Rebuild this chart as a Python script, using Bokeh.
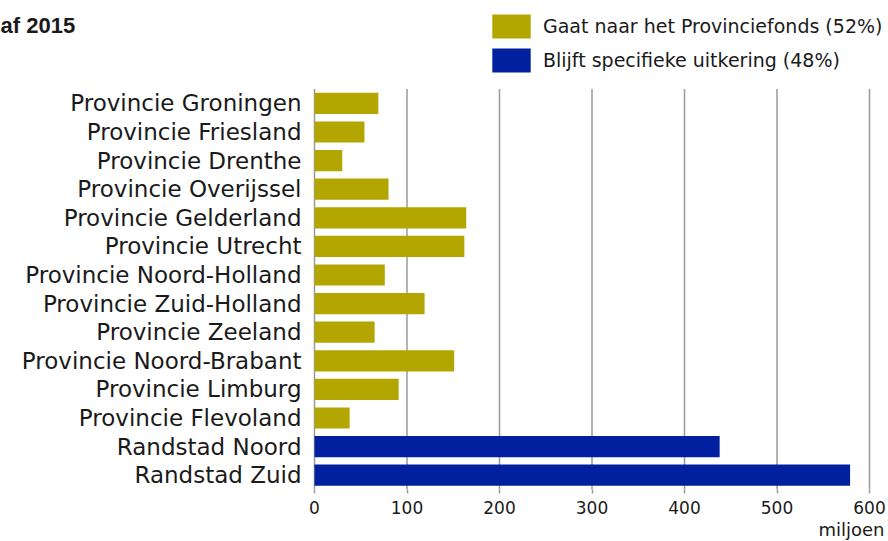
from bokeh.plotting import figure
from bokeh.models import (Range1d, Legend, LegendItem, Title, Label,
                          ColumnDataSource, FixedTicker)
from bokeh.embed import file_html
from bokeh.resources import INLINE

provinces = ["Provincie Groningen", "Provincie Friesland", "Provincie Drenthe",
             "Provincie Overijssel", "Provincie Gelderland", "Provincie Utrecht",
             "Provincie Noord-Holland", "Provincie Zuid-Holland", "Provincie Zeeland",
             "Provincie Noord-Brabant", "Provincie Limburg", "Provincie Flevoland"]
province_values = [69, 54, 30, 80, 164, 162, 76, 119, 65, 151, 91, 38]

randstad = ["Randstad Noord", "Randstad Zuid"]
randstad_values = [438, 579]

legend_labels = ["Gaat naar het Provinciefonds (52%)", "Blijft specifieke uitkering (48%)"]
title_text = "af 2015"
unit_text = "miljoen"
x_ticks = [0, 100, 200, 300, 400, 500, 600]

OLIVE = "#B3A600"
BLUE = "#0020A0"
GRID = "#9a9a9a"
TEXT = "#1a1a1a"
FONT = "DejaVu Sans"

# row positions: first category on top
categories = provinces + randstad
n = len(categories)
row = {c: n - 1 - i for i, c in enumerate(categories)}

W, H = 888, 541
BOTTOM = 52                     # room for x axis + unit
FRAME_H = H - BOTTOM
ROW_PX = 28.6
ZERO_PX = 314                   # pixel position of value 0
PX_PER_UNIT = 0.925

y_top = -0.5 + FRAME_H / ROW_PX
x_start = -ZERO_PX / PX_PER_UNIT
x_end = x_start + W / PX_PER_UNIT

p = figure(width=W, height=H, output_backend="svg", toolbar_location=None,
           x_range=Range1d(x_start, x_end), y_range=Range1d(-0.5, y_top),
           y_axis_location=None,
           min_border_left=0, min_border_right=0, min_border_top=0,
           min_border_bottom=BOTTOM)
p.outline_line_color = None
p.grid.grid_line_color = None

# vertical grid lines (limited to the bar area)
p.segment(x0=x_ticks, x1=x_ticks, y0=-0.5, y1=n - 0.5,
          line_color=GRID, line_width=1.5)

src_p = ColumnDataSource(dict(y=[row[c] for c in provinces], v=province_values))
src_r = ColumnDataSource(dict(y=[row[c] for c in randstad], v=randstad_values))
r1 = p.hbar(y="y", right="v", left=0, height=0.74, source=src_p,
            fill_color=OLIVE, line_color=None)
r2 = p.hbar(y="y", right="v", left=0, height=0.74, source=src_r,
            fill_color=BLUE, line_color=None)

# category labels
src_l = ColumnDataSource(dict(y=[row[c] for c in categories], name=categories))
p.text(x=0, y="y", text="name", source=src_l, x_offset=-13,
       text_align="right", text_baseline="middle",
       text_font={"value": FONT}, text_font_size="23px", text_color=TEXT)

# x axis
p.xaxis.ticker = FixedTicker(ticks=x_ticks)
p.xaxis.axis_line_color = None
p.xaxis.major_tick_line_color = GRID
p.xaxis.major_tick_line_width = 1.5
p.xaxis.major_tick_in = 0
p.xaxis.major_tick_out = 4
p.xaxis.minor_tick_line_color = None
p.xaxis.major_label_text_font = FONT
p.xaxis.major_label_text_font_size = "17px"
p.xaxis.major_label_text_color = TEXT
p.xaxis.major_label_standoff = 7

unit = Title(text=unit_text, align="right", text_font=FONT, text_font_size="18px",
             text_color=TEXT, text_font_style="normal", standoff=0, offset=4)
p.add_layout(unit, "below")

# title
p.add_layout(Label(x=0, y=FRAME_H - 25, x_units="screen", y_units="screen",
                   text=title_text, text_font="Liberation Sans",
                   text_font_size="22px", text_font_style="bold", text_color=TEXT,
                   text_baseline="alphabetic", text_align="left"))

# legend (glyph boxes are drawn with a 10% inset)
legend = Legend(items=[LegendItem(label=legend_labels[0], renderers=[r1]),
                       LegendItem(label=legend_labels[1], renderers=[r2])],
                location=(487, FRAME_H - 75), orientation="vertical",
                glyph_width=48, glyph_height=30, label_height=30,
                spacing=4, padding=0, margin=0, label_standoff=8,
                label_text_font=FONT, label_text_font_size="19px",
                label_text_color=TEXT,
                background_fill_alpha=0, border_line_alpha=0)
p.add_layout(legend)

open("out.html", "w").write(file_html(p, INLINE))
